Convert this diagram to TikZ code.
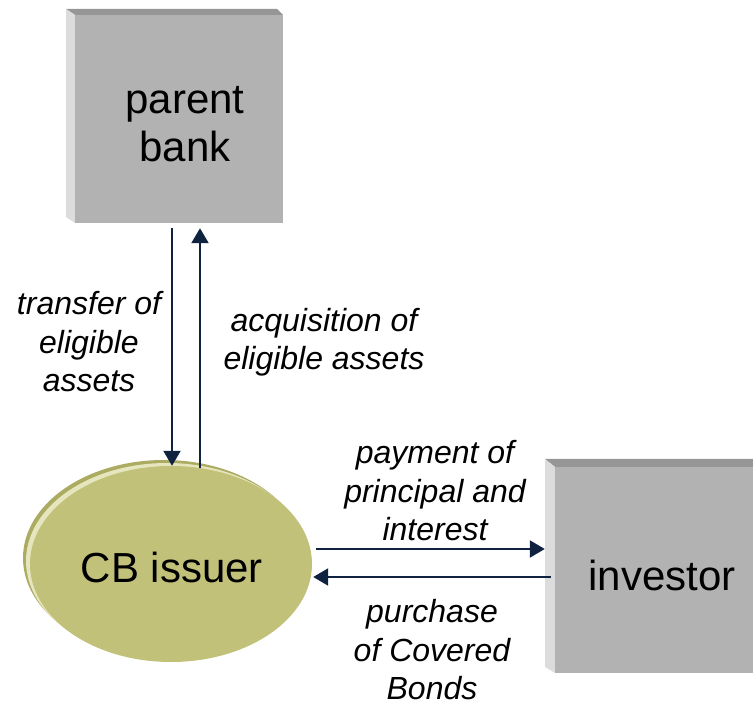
\documentclass[tikz,border=0pt]{standalone}
\usepackage{fontspec}
\setmainfont{Liberation Sans}
\usetikzlibrary{arrows.meta,shapes.geometric,calc}
\definecolor{boxface}{RGB}{178,178,178}
\definecolor{boxtop}{RGB}{150,150,150}
\definecolor{boxleft}{RGB}{220,220,220}
\definecolor{ellface}{RGB}{194,193,122}
\definecolor{ellshade}{RGB}{172,171,98}
\definecolor{ellhi}{RGB}{230,230,190}
\definecolor{arrcol}{RGB}{15,35,64}
\tikzset{
  boxnode/.style={rectangle, fill=boxface, draw=none, inner sep=0pt,
    font=\fontsize{42}{48}\selectfont, align=center},
  bevtop/.style={fill=boxtop, draw=none},
  bevleft/.style={fill=boxleft, draw=none},
  ellnode/.style={ellipse, fill=ellface, draw=none, inner sep=0pt,
    minimum width=282pt, minimum height=196pt, font=\fontsize{42}{48}\selectfont},
  flowarr/.style={draw=arrcol, line width=2.2pt, -{Triangle[length=15pt,width=17pt]}},
  lbl/.style={font=\fontsize{32}{38.5}\selectfont\itshape, align=center, inner sep=0pt}
}
\begin{document}
\begin{tikzpicture}[x=1pt,y=-1pt]
\useasboundingbox (0,0) rectangle (753,703);
% parent bank box
\fill[bevtop] (66,9) -- (277,9) -- (283,15) -- (75,15) -- cycle;
\fill[bevleft] (66,9) -- (75,15) -- (75,223) -- (66,217) -- cycle;
\node[boxnode, minimum width=208pt, minimum height=208pt] (pb) at (179,119) {};
\node[font=\fontsize{42}{48}\selectfont, align=center, inner sep=0pt] (pbt) at ($(pb.center)+(6,5)$) {parent\\bank};
% investor box
\fill[bevtop] (545,459) -- (753,459) -- (753,467) -- (555,467) -- cycle;
\fill[bevleft] (545,459) -- (555,467) -- (555,673) -- (545,667) -- cycle;
\node[boxnode, minimum width=198pt, minimum height=206pt] (inv) at (654,570) {};
\node[font=\fontsize{42}{48}\selectfont, inner sep=0pt] (invt) at ($(inv.center)+(8,5)$) {investor};
% CB issuer ellipse
\fill[ellshade] (164,558) ellipse (141pt and 98pt);
\fill[ellhi] (167,561) ellipse (141pt and 98pt);
\node[ellnode] (cb) at (171,564) {};
\node[font=\fontsize{42}{48}\selectfont, inner sep=0pt] (cbt) at ($(cb.center)+(1,3)$) {CB issuer};
% arrows
\coordinate (xd) at (172,0);
\coordinate (xu) at (200,0);
\coordinate (ya) at (0,549);
\coordinate (yb) at (0,577);
\draw[flowarr] ($(pb.south -| xd)+(0,5)$) -- ($(cb.north -| xd)+(0,0)$);
\draw[flowarr] ($(cb.north -| xu)+(0,2)$) -- ($(pb.south -| xu)+(0,5)$);
\draw[flowarr] ($(cb.east |- ya)+(4,0)$) -- ($(inv.west |- ya)+(-10,0)$);
\draw[flowarr] ($(inv.west |- yb)+(-4,0)$) -- ($(cb.east |- yb)+(1,0)$);
% labels
\node[lbl] (l1) at (89,342) {transfer of\\eligible\\assets};
\node[lbl] (l2) at (324,342) {acquisition of\\eligible assets};
\node[lbl] (l3) at (435,491) {payment of\\principal and\\interest};
\node[lbl] (l4) at (432,650) {purchase\\of Covered\\Bonds};
\end{tikzpicture}
\end{document}
